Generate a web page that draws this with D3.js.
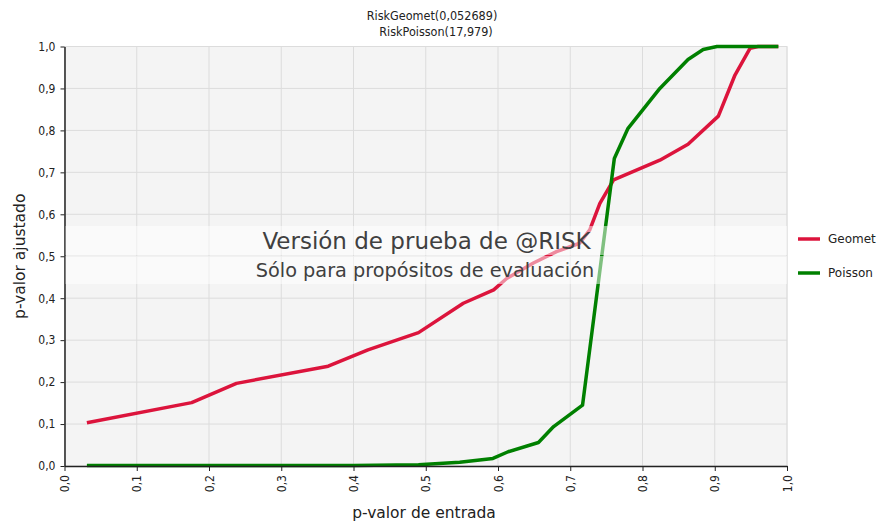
<!DOCTYPE html>
<html>
<head>
  <meta charset="utf-8">
  <title>p-valor chart</title>
  <script src="https://d3js.org/d3.v7.min.js"></script>
  <style>
    body { margin: 0; background: white; }
    svg { display: block; }
    .tick text { font-family: "DejaVu Sans Condensed", "DejaVu Sans", sans-serif; font-size: 12px; fill: #222; }
    .title { font-family: "DejaVu Sans Condensed", "DejaVu Sans", sans-serif; font-size: 12.5px; fill: #222; }
    .axis-title { font-family: "DejaVu Sans", sans-serif; font-size: 15.5px; fill: #222; }
    .legend text { font-family: "DejaVu Sans", sans-serif; font-size: 12px; fill: #222; }
    .wm { font-family: "DejaVu Sans", sans-serif; fill: #404040; }
  </style>
</head>
<body>
<div id="chart"></div>
<script>
// title lines
var titleLines = ["RiskGeomet(0,052689)", "RiskPoisson(17,979)"]

// tick values
var xTicks = [0, 0.1, 0.2, 0.3, 0.4, 0.5, 0.6, 0.7, 0.8, 0.9, 1.0]
var yTicks = [0, 0.1, 0.2, 0.3, 0.4, 0.5, 0.6, 0.7, 0.8, 0.9, 1.0]

// series names
var seriesNames = ["Geomet", "Poisson"]
var seriesColors = ["#dc143c", "#008000"]

// Geomet: input p-value / fitted p-value
var geometX = [0.031, 0.176, 0.238, 0.365, 0.42, 0.49, 0.552, 0.594, 0.612, 0.649, 0.681, 0.713, 0.727, 0.741, 0.76, 0.824, 0.863, 0.905, 0.928, 0.949, 0.96, 0.988]
var geometY = [0.103, 0.151, 0.197, 0.238, 0.277, 0.318, 0.388, 0.42, 0.447, 0.484, 0.511, 0.531, 0.563, 0.626, 0.682, 0.729, 0.767, 0.834, 0.932, 0.996, 1.0, 1.0]

// Poisson: input p-value / fitted p-value
var poissonX = [0.031, 0.2, 0.4, 0.49, 0.547, 0.593, 0.614, 0.656, 0.677, 0.717, 0.761, 0.78, 0.824, 0.863, 0.884, 0.903, 0.988]
var poissonY = [0.001, 0.001, 0.001, 0.003, 0.009, 0.018, 0.034, 0.056, 0.094, 0.145, 0.733, 0.805, 0.9, 0.969, 0.993, 1.0, 1.0]

var width = 881,
    height = 524
var margin = {top: 46.5, right: 94, bottom: 58, left: 64.5}

var svg = d3.select("#chart").append("svg")
    .attr("width", width)
    .attr("height", height)

var x = d3.scaleLinear().domain([0, 1]).range([margin.left, width - margin.right])
var y = d3.scaleLinear().domain([0, 1]).range([height - margin.bottom, margin.top])

var fmt = function (d) { return d3.format(".1f")(d).replace(".", ",") }

// plot background
svg.append("rect")
    .attr("x", x(0)).attr("y", y(1))
    .attr("width", x(1) - x(0)).attr("height", y(0) - y(1))
    .attr("fill", "#f4f4f4")
    .attr("stroke", "#e2e2e2")

// gridlines
svg.append("g").selectAll("line").data(xTicks.slice(1))
  .enter().append("line")
    .attr("x1", function (d) { return x(d) }).attr("x2", function (d) { return x(d) })
    .attr("y1", y(0)).attr("y2", y(1))
    .attr("stroke", "#dcdcdc")
svg.append("g").selectAll("line").data(yTicks.slice(1))
  .enter().append("line")
    .attr("x1", x(0)).attr("x2", x(1))
    .attr("y1", function (d) { return y(d) }).attr("y2", function (d) { return y(d) })
    .attr("stroke", "#dcdcdc")

// lines
var line = d3.line()
    .x(function (d) { return x(d[0]) })
    .y(function (d) { return y(d[1]) })

var series = [
  d3.zip(geometX, geometY),
  d3.zip(poissonX, poissonY)
]

svg.append("g").selectAll("path").data(series)
  .enter().append("path")
    .attr("d", line)
    .attr("fill", "none")
    .attr("stroke", function (d, i) { return seriesColors[i] })
    .attr("stroke-width", 3.5)
    .attr("stroke-linejoin", "round")

// axes
var xAxis = svg.append("g")
    .attr("transform", "translate(0," + y(0) + ")")
    .call(d3.axisBottom(x).tickValues(xTicks).tickFormat(fmt).tickSize(5).tickSizeOuter(0))
xAxis.select(".domain").attr("stroke", "#222").attr("stroke-width", 1.5)
xAxis.selectAll(".tick line").attr("stroke", "#222")
xAxis.selectAll(".tick text")
    .attr("transform", "rotate(-90)")
    .attr("x", -9).attr("y", 0).attr("dy", "0.35em")
    .style("text-anchor", "end")

var yAxis = svg.append("g")
    .attr("transform", "translate(" + x(0) + ",0)")
    .call(d3.axisLeft(y).tickValues(yTicks).tickFormat(fmt).tickSize(4).tickSizeOuter(0))
yAxis.select(".domain").attr("stroke", "#222").attr("stroke-width", 1.5)
yAxis.selectAll(".tick line").attr("stroke", "#222")
yAxis.selectAll(".tick text").attr("x", -9)

// watermark band
svg.append("rect")
    .attr("x", x(0) + 1).attr("y", 226)
    .attr("width", x(1) - x(0) - 1).attr("height", 29)
    .attr("fill", "white").attr("opacity", 0.5)
svg.append("rect")
    .attr("x", x(0) + 1).attr("y", 256)
    .attr("width", x(1) - x(0) - 1).attr("height", 28)
    .attr("fill", "white").attr("opacity", 0.5)
svg.append("text").attr("class", "wm")
    .attr("x", 426.5).attr("y", 249)
    .attr("text-anchor", "middle")
    .style("font-size", "23px")
    .text("Versión de prueba de @RISK")
svg.append("text").attr("class", "wm")
    .attr("x", 425).attr("y", 277)
    .attr("text-anchor", "middle")
    .style("font-size", "19.3px")
    .text("Sólo para propósitos de evaluación")

// title
svg.append("g").selectAll("text").data(titleLines)
  .enter().append("text")
    .attr("class", "title")
    .attr("x", function (d, i) { return i === 0 ? 432 : 436 })
    .attr("y", function (d, i) { return 20 + i * 16 })
    .attr("text-anchor", "middle")
    .text(function (d) { return d })

// axis titles
svg.append("text").attr("class", "axis-title")
    .attr("x", 424).attr("y", 518)
    .attr("text-anchor", "middle")
    .text("p-valor de entrada")
svg.append("text").attr("class", "axis-title")
    .attr("transform", "translate(25," + y(0.5) + ") rotate(-90)")
    .attr("text-anchor", "middle")
    .text("p-valor ajustado")

// legend
var legend = svg.append("g").attr("class", "legend")
    .selectAll("g").data(seriesNames)
  .enter().append("g")
    .attr("transform", function (d, i) { return "translate(798," + (239 + i * 34) + ")" })
legend.append("line")
    .attr("x1", 0).attr("x2", 22)
    .attr("stroke", function (d, i) { return seriesColors[i] })
    .attr("stroke-width", 3.5)
legend.append("text")
    .attr("x", 30).attr("dy", "0.35em")
    .text(function (d) { return d })
</script>
</body>
</html>
